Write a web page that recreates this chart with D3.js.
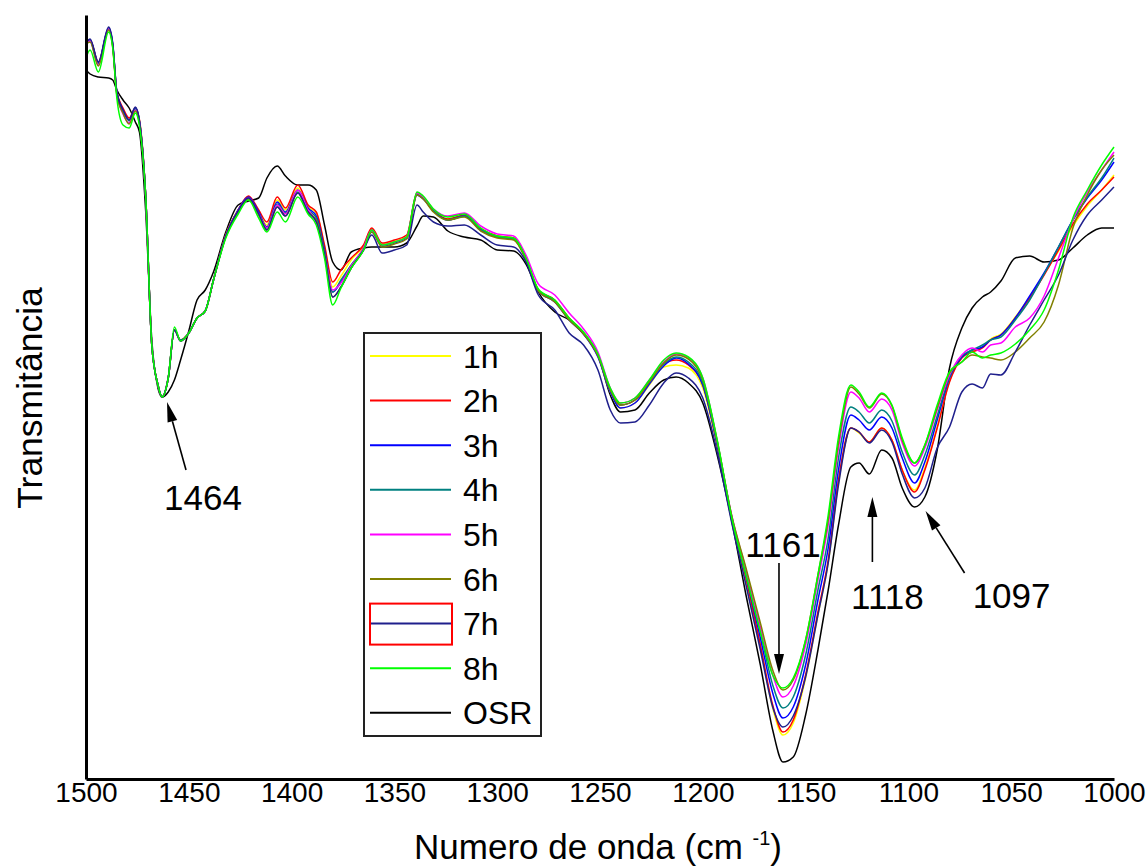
<!DOCTYPE html>
<html>
<head>
<meta charset="utf-8">
<script src="https://cdn.jsdelivr.net/npm/d3@7"></script>
<style>
  body { margin: 0; background: #fff; }
  svg { display: block; }
</style>
</head>
<body>
<svg id="chart" width="1148" height="866"></svg>
<script>
// FTIR spectra, 1500-1000 cm-1 (transmittance, arbitrary %)
const wavenumbers = [
  1500,1498,1494,1489,1487,1485,1482,1479,1476,1474,
  1471,1468,1465,1463,1460,1457,1454,1450,1446,1442,1438,
  1432,1426,1421,1416,1412,1407,1403,1397,1392,1388,
  1384,1380,1376,1371,1365,1361,1356,1350,1344,
  1339,1336,1331,1324,1316,1308,1300,1292,1286,
  1280,1272,1265,1258,1251,1245,1240,1233,1226,1219,1213,1207,1200,
  1193,1186,1179,1172,1166,1161,1156,1150,1144,1139,1134,
  1128,1124,1119,1113,1108,1103,1097,1092,1086,
  1080,1074,1069,1064,1060,1055,1048,1041,1034,1027,1020,1013,1006,1000
];

const t1h = [
  95.6,95.9,93.7,97.0,95.4,90.7,89.0,88.0,89.1,87.9,
  80.5,65.5,61.5,60.3,62.2,67.0,66.0,66.7,68.2,68.9,72.0,
  76.5,79.0,80.3,78.8,77.5,80.0,79.0,81.2,79.3,78.7,
  75.3,71.3,72.4,74.0,75.4,77.1,75.6,75.9,76.4,
  80.6,80.2,78.9,78.1,78.4,77.1,76.4,76.2,74.2,
  71.0,69.9,68.1,66.7,64.4,60.8,59.2,59.7,61.5,63.3,63.5,63.2,61.2,
  55.4,48.1,42.0,35.3,29.2,26.5,27.7,32.2,38.5,43.7,51.7,
  57.2,56.7,55.8,57.2,56.0,53.0,51.0,53.2,57.3,
  61.9,64.3,64.9,65.3,66.1,66.6,68.3,70.3,72.6,74.9,77.4,79.4,81.0,82.5
];
const t2h = [
  95.6,96.0,93.8,97.1,95.5,90.8,89.2,88.2,89.2,88.0,
  80.5,65.5,61.5,60.3,62.2,67.0,66.0,66.7,68.2,68.9,72.0,
  76.5,79.0,80.4,79.0,77.8,80.3,79.2,81.5,79.5,78.8,
  75.5,71.8,73.0,74.2,75.5,77.2,75.7,76.0,76.5,
  80.7,80.3,79.0,78.1,78.5,77.1,76.4,76.2,74.2,
  71.0,70.0,68.2,66.7,64.5,61.0,59.5,60.0,61.8,63.6,64.0,63.5,61.5,
  55.5,48.2,42.2,35.5,29.5,26.8,28.0,32.5,38.8,44.0,52.0,
  57.2,56.8,55.8,57.2,56.0,53.0,50.8,53.0,57.2,
  61.8,64.2,64.8,65.2,66.0,66.5,68.2,70.2,72.5,75.0,77.6,79.6,81.0,82.3
];
const t3h = [
  95.7,96.0,93.7,97.2,95.6,90.8,89.0,88.0,89.2,87.9,
  80.5,65.5,61.5,60.3,62.2,67.0,65.9,66.7,68.2,68.9,72.0,
  76.4,79.0,80.3,78.8,77.3,79.8,78.8,81.0,79.2,78.4,
  75.0,70.8,71.8,73.4,75.0,76.8,75.4,75.7,76.2,
  80.5,80.1,78.9,78.0,78.4,77.0,76.3,76.1,74.1,
  70.9,69.8,68.0,66.6,64.3,60.8,59.2,59.7,61.6,63.4,64.2,63.6,61.5,
  55.6,48.3,42.5,36.2,30.7,28.2,29.3,33.5,40.0,45.2,53.0,
  58.5,58.0,57.0,58.3,57.2,54.2,51.7,53.8,58.0,
  62.2,64.3,65.0,65.3,66.0,66.5,68.2,70.4,72.7,75.3,78.0,80.2,82.0,83.8
];
const t4h = [
  95.7,95.9,93.6,97.1,95.5,90.7,88.9,87.9,89.1,87.8,
  80.5,65.5,61.5,60.3,62.2,67.0,66.0,66.7,68.2,68.9,72.0,
  76.4,78.9,80.2,78.6,77.2,79.6,78.7,80.8,79.0,78.2,
  74.8,70.8,72.0,73.5,75.2,77.0,75.5,75.8,76.3,
  80.6,80.2,78.9,78.0,78.4,77.0,76.3,76.1,74.1,
  71.0,69.9,68.1,66.7,64.5,61.0,59.5,60.0,61.8,63.6,64.3,63.8,61.7,
  55.7,48.4,42.7,36.8,31.5,29.2,30.3,34.5,41.0,46.2,54.2,
  59.3,58.8,57.7,59.0,57.9,54.8,52.5,54.5,58.4,
  62.3,64.4,65.0,65.5,66.0,66.3,68.0,70.0,72.6,75.3,78.0,80.3,82.2,84.2
];
const t5h = [
  95.7,95.9,93.5,97.1,95.4,90.6,88.6,87.7,89.0,87.7,
  80.5,65.5,61.5,60.3,62.2,67.0,65.9,66.7,68.2,68.9,72.0,
  76.4,78.9,80.2,78.6,77.2,79.5,78.6,81.0,79.0,77.8,
  74.6,71.0,71.7,73.4,75.2,77.0,75.5,75.8,76.3,
  80.7,80.3,79.1,78.4,78.7,77.4,76.6,76.4,74.5,
  71.6,70.5,68.7,67.1,64.8,61.2,59.7,60.2,62.0,63.8,64.6,64.2,62.2,
  55.9,48.5,43.0,37.3,32.5,30.3,31.4,35.5,42.0,47.5,55.2,
  60.8,60.2,58.8,60.1,59.0,55.7,53.4,55.2,59.0,
  62.5,64.5,65.2,64.8,65.5,65.7,67.3,68.2,70.4,74.2,78.0,80.8,83.0,84.8
];
const t6h = [
  95.6,95.8,93.4,97.0,95.3,90.5,88.7,87.6,88.9,87.6,
  80.5,65.5,61.5,60.3,62.2,67.0,65.9,66.7,68.2,68.9,72.0,
  76.3,78.8,80.1,78.5,77.0,79.3,78.4,80.7,78.8,78.0,
  74.6,70.3,71.3,73.2,75.0,76.8,75.3,75.6,76.1,
  80.5,80.1,78.8,78.0,78.3,76.9,76.2,76.0,74.0,
  70.9,69.8,68.0,66.6,64.4,61.0,59.5,60.0,61.8,63.7,64.5,64.1,62.0,
  55.9,48.5,43.2,37.7,33.0,31.0,32.0,36.0,42.5,48.0,55.7,
  61.3,60.6,59.2,60.6,59.4,56.0,53.7,55.5,59.2,
  62.7,63.8,64.5,64.3,64.2,64.0,64.8,66.2,67.8,71.5,77.2,80.5,83.0,84.5
];
const t7h = [
  95.7,96.1,93.8,97.3,95.7,90.8,89.0,88.0,89.3,87.9,
  80.5,65.5,61.5,60.3,62.2,67.0,65.9,66.7,68.2,68.9,72.0,
  76.4,78.9,80.2,78.6,77.0,79.3,78.4,80.7,78.8,77.8,
  74.6,70.3,71.3,73.2,75.0,76.5,74.7,75.0,75.5,
  79.5,78.8,77.8,77.4,77.5,76.5,75.5,75.3,73.8,
  70.5,69.0,66.7,65.5,63.0,59.0,57.7,57.8,59.5,61.7,62.7,62.2,60.2,
  54.8,47.8,41.5,35.0,29.3,27.3,28.4,32.3,38.5,43.7,51.5,
  57.2,56.8,55.7,57.0,55.8,52.6,50.2,51.2,55.2,
  57.3,60.8,61.6,61.2,62.6,62.5,64.8,67.5,70.0,72.5,76.0,78.5,80.0,81.3
];
const t8h = [
  94.2,95.0,92.8,96.8,95.2,90.2,87.5,87.2,88.7,87.4,
  80.5,65.5,61.5,60.3,62.2,67.3,65.9,66.7,68.2,68.9,72.0,
  76.2,78.6,80.0,78.2,76.8,78.8,77.8,80.3,78.6,77.5,
  74.2,69.5,71.2,73.2,75.0,77.0,75.5,75.8,76.3,
  80.8,80.4,79.1,78.3,78.6,77.2,76.4,76.2,74.2,
  71.1,70.0,68.2,66.8,64.6,61.2,59.7,60.2,62.0,64.0,64.7,64.3,62.2,
  56.0,48.3,42.5,36.8,32.5,31.2,32.2,36.0,42.5,48.5,56.3,
  61.5,60.8,59.3,60.7,59.5,56.2,53.7,55.5,59.5,
  62.8,63.8,64.8,64.2,64.5,64.7,65.6,67.0,69.0,73.0,78.2,81.0,83.5,85.3
];
const tOSR = [
  93.0,92.6,92.3,92.2,92.0,91.0,90.0,89.2,87.8,86.8,
  79.0,66.0,61.2,60.3,60.8,62.0,64.0,66.9,70.0,71.0,72.8,
  76.8,79.5,79.9,80.2,82.2,83.4,82.4,81.5,81.5,81.0,
  77.5,73.8,73.0,74.8,75.2,75.3,75.3,75.3,75.7,
  77.4,78.4,78.3,76.9,76.3,76.0,75.0,74.9,73.6,
  70.8,68.8,68.0,66.6,64.5,60.5,58.8,59.0,60.7,62.0,62.3,61.7,59.7,
  54.5,48.0,40.5,33.5,27.0,23.8,24.3,28.5,35.0,41.0,47.5,
  53.3,53.7,52.6,55.0,54.2,51.2,49.3,50.3,55.0,
  63.2,67.2,69.2,70.3,70.8,71.9,74.2,74.4,73.8,74.0,75.2,76.5,77.2,77.2
];

const seriesNames = ["1h", "2h", "3h", "4h", "5h", "6h", "7h", "8h", "OSR"];
const seriesValues = [t1h, t2h, t3h, t4h, t5h, t6h, t7h, t8h, tOSR];
const seriesColors = ["#ffff00", "#ff0000", "#0000ff", "#008080", "#ff00ff",
                      "#808000", "#1f1f8c", "#00ff00", "#000000"];

const xTickValues = [1500, 1450, 1400, 1350, 1300, 1250, 1200, 1150, 1100, 1050, 1000];

const peakWavenumbers = [1464, 1161, 1118, 1097];
const peakLabels = ["1464", "1161", "1118", "1097"];

const FONT = "'Liberation Sans', Arial, Helvetica, sans-serif";
const svg = d3.select("#chart");

const x = d3.scaleLinear().domain([1500, 1000]).range([86, 1114]);
const y = d3.scaleLinear().domain([22.1, 98.5]).range([779, 15]);

const line = d3.line()
  .x((d, i) => x(wavenumbers[i]))
  .y(d => y(d))
  .curve(d3.curveMonotoneX);

// spectra: reference sample underneath, then 1h..8h
const order = [8, 0, 1, 2, 3, 4, 5, 6, 7];
svg.append("g")
  .selectAll("path")
  .data(order)
  .join("path")
  .attr("d", i => line(seriesValues[i]))
  .attr("fill", "none")
  .attr("stroke", i => seriesColors[i])
  .attr("stroke-width", 1.5)
  .attr("stroke-linejoin", "round");

// axes
const xAxis = svg.append("g")
  .attr("transform", "translate(0,779)")
  .call(d3.axisBottom(x).tickValues(xTickValues).tickSize(0).tickPadding(3).tickFormat(d3.format("d")));
xAxis.select(".domain").attr("stroke", "#000").attr("stroke-width", 3);
xAxis.selectAll("text")
  .attr("font-family", FONT).attr("font-size", 28).attr("fill", "#000");

const yAxis = svg.append("g")
  .attr("transform", "translate(86,0)")
  .call(d3.axisLeft(y).tickValues([]).tickSize(0));
yAxis.select(".domain").attr("stroke", "#000").attr("stroke-width", 3);

// axis titles
svg.append("text")
  .attr("transform", "translate(42,398) rotate(-90)")
  .attr("text-anchor", "middle")
  .attr("font-family", FONT).attr("font-size", 35.5).attr("fill", "#000")
  .text("Transmitância");

const xTitle = svg.append("text")
  .attr("x", 598).attr("y", 859)
  .attr("text-anchor", "middle")
  .attr("font-family", FONT).attr("font-size", 35).attr("fill", "#000");
xTitle.append("tspan").text("Numero de onda (cm ");
xTitle.append("tspan").attr("font-size", 20).attr("dy", -14).text("-1");
xTitle.append("tspan").attr("dy", 14).text(")");

// legend
const legend = svg.append("g");
legend.append("rect")
  .attr("x", 364).attr("y", 333).attr("width", 177).attr("height", 403)
  .attr("fill", "#fff").attr("stroke", "#222").attr("stroke-width", 2);
const rowY = i => 356 + i * 44.6;
const rows = legend.selectAll("g.row")
  .data(seriesNames)
  .join("g")
  .attr("class", "row")
  .attr("transform", (d, i) => `translate(0,${rowY(i)})`);
rows.append("line")
  .attr("x1", 370).attr("x2", 451)
  .attr("stroke", (d, i) => seriesColors[i])
  .attr("stroke-width", 2);
rows.append("text")
  .attr("x", 463).attr("dy", "0.36em")
  .attr("font-family", FONT).attr("font-size", 32).attr("fill", "#000")
  .text(d => d);
// selection frame around the 7h sample line
legend.append("rect")
  .attr("x", 370).attr("y", rowY(6) - 20).attr("width", 82).attr("height", 41)
  .attr("fill", "none").attr("stroke", "#ff0000").attr("stroke-width", 2);

// peak annotations: arrow tip / tail offsets and label position
const annotationLayout = [
  { tip: [7, 402],  tail: [26, 470],  label: [43, 510] },
  { tip: [-4, 674], tail: [-4, 563],  label: [0, 557] },
  { tip: [1, 497],  tail: [1, 562],   label: [16, 609] },
  { tip: [11, 511], tail: [50, 573],  label: [97, 608] }
];

function arrow(g, x1, y1, x2, y2) {
  const ang = Math.atan2(y2 - y1, x2 - x1);
  const len = 20, half = 5;
  const bx = x2 - len * Math.cos(ang), by = y2 - len * Math.sin(ang);
  g.append("line")
    .attr("x1", x1).attr("y1", y1).attr("x2", bx).attr("y2", by)
    .attr("stroke", "#000").attr("stroke-width", 1.6);
  const px = -Math.sin(ang) * half, py = Math.cos(ang) * half;
  g.append("path")
    .attr("d", `M${x2},${y2}L${bx + px},${by + py}L${bx - px},${by - py}Z`)
    .attr("fill", "#000");
}

const ann = svg.append("g");
peakWavenumbers.forEach((wn, i) => {
  const lay = annotationLayout[i];
  const cx = x(wn);
  arrow(ann, cx + lay.tail[0], lay.tail[1], cx + lay.tip[0], lay.tip[1]);
  ann.append("text")
    .attr("x", cx + lay.label[0]).attr("y", lay.label[1])
    .attr("text-anchor", "middle")
    .attr("font-family", FONT).attr("font-size", 35).attr("fill", "#000")
    .text(peakLabels[i]);
});
</script>
</body>
</html>
